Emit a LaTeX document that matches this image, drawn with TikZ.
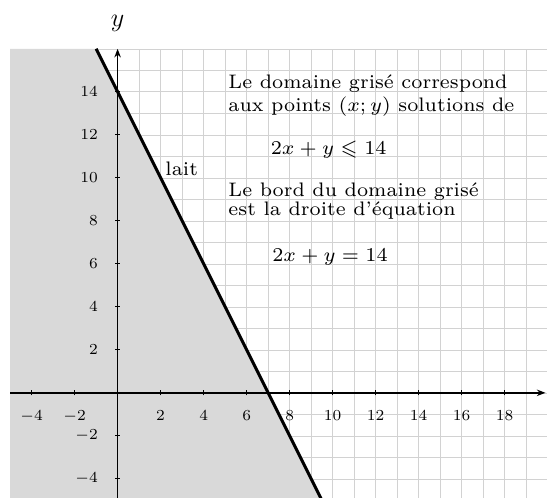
\documentclass[tikz,border=0pt]{standalone}
\usepackage{amsmath,amssymb}
\usetikzlibrary{arrows.meta}

\begin{document}
\begin{tikzpicture}[x=.5cm,y=.5cm,axe/.style={-{Stealth[length=2mm]},line width=1pt},lbl/.style={font=\scriptsize,scale=1.45,inner sep=1pt},txt/.style={font=\scriptsize,scale=1.85,anchor=base west,inner sep=0pt}]
\useasboundingbox (-5.47,-4.85) rectangle (19.97,18.27);
\draw[gray!35,line width=.4pt,step={(1,1)}] (-5,-5) grid (20,16);
\fill[gray!30] (-5,-5)--(9.5,-5)--(-1,16)--(-5,16)--cycle;
\coordinate (xmin) at (-5,0); \coordinate (xmax) at (19.9,0);
\coordinate (ymin) at (0,-5); \coordinate (ymax) at (0,16);
\draw[axe] (xmin)--(xmax); \draw[axe] (ymin)--(ymax);
\foreach \i in {-4,-2,2,4,...,18} {\draw[semithick] (\i,-.12)--(\i,.12); \node[lbl] (xl\i) at (\i,-1.08) {$\i$};}
\foreach \j in {-4,-2,2,4,...,14} {\draw[semithick] (-.12,\j)--(.12,\j); \node[lbl,anchor=east] (yl\j) at (-.8,\j) {$\j$};}
\node[font=\LARGE] (ylab) at (0,17.2) {$y$};
\coordinate (top) at (-1,16); \coordinate (bot) at (9.5,-5);
\draw[line width=2pt] (top)--(bot);
\node[txt] (lait) at (2.2,10.13) {lait};
% texte explicatif
\node[txt] (t1) at (5.13,14.16) {Le domaine gris\'e correspond};
\node[txt] (t2) at (5.13,13.07) {aux points $(x;y)$ solutions de};
\node[txt] (ineq) at (7.1,11.1) {$2x+y\leqslant 14$};
\node[txt] (t3) at (5.13,9.12) {Le bord du domaine gris\'e};
\node[txt] (t4) at (5.13,8.26) {est la droite d'\'equation};
\node[txt] (eq) at (7.17,6.09) {$2x+y=14$};
\end{tikzpicture}
\end{document}
